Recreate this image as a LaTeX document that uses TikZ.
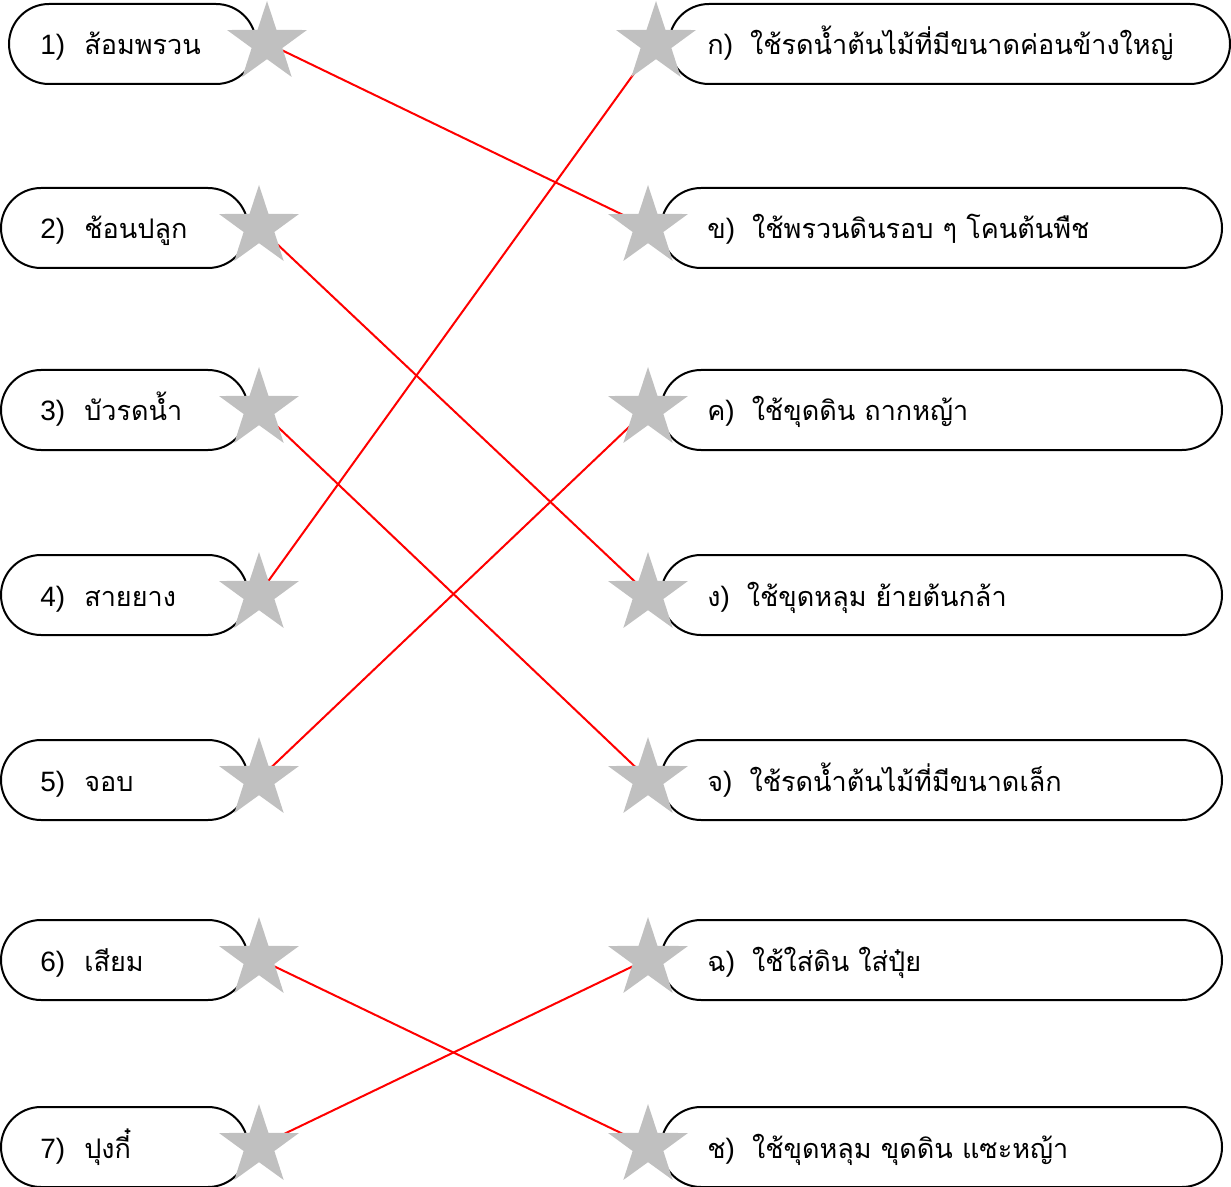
\documentclass[tikz,border=0pt]{standalone}
\usepackage{fontspec}
\setmainfont{Liberation Sans}
\newfontfamily\thaifont[Script=Thai,Scale=0.965]{Loma}
\usetikzlibrary{shapes.geometric,backgrounds}
\definecolor{stargray}{HTML}{C0C0C0}

\begin{document}
\begin{tikzpicture}[x=0.5pt,y=-0.5pt]
            \tikzstyle{box}=[draw=black,line width=1pt,rounded corners=20pt,minimum height=40pt,inner sep=0pt,anchor=west]
            \tikzstyle{lbox}=[box,minimum width=123.5pt]
            \tikzstyle{rbox}=[box,minimum width=280.5pt]
            \tikzstyle{itemtext}=[anchor=base west,inner sep=0pt,font=\fontsize{14}{16}\selectfont]
            \tikzstyle{starmark}=[star,star points=5,star point ratio=2.6,minimum size=42pt,inner sep=0pt,fill=stargray]
            \tikzstyle{match}=[red,line width=1pt]
            \useasboundingbox (0,0) rectangle (1231,1187);

                % left column
                \foreach \i/\x/\y/\t in {1/8/44/ส้อมพรวน, 2/0/228/ช้อนปลูก, 3/0/410/บัวรดน้ำ, 4/0/595/สายยาง, 5/0/780/จอบ, 6/0/960/เสียม, 7/0/1147/ปุงกี๋}{
                    \node[lbox] (L-\i) at (\x,\y){};
                    \node[itemtext] (LT-\i) at (40,\y+11){\i)\hspace{9.5pt}{\thaifont \t}};
                    \node[starmark] (LS-\i) at (\x+259,\y-1){};
                }

                % right column
                \foreach \i/\x/\y/\k/\t in {1/668/44/ก/ใช้รดน้ำต้นไม้ที่มีขนาดค่อนข้างใหญ่, 2/660/228/ข/ใช้พรวนดินรอบ ๆ โคนต้นพืช, 3/660/410/ค/ใช้ขุดดิน ถากหญ้า, 4/660/595/ง/ใช้ขุดหลุม ย้ายต้นกล้า, 5/660/780/จ/ใช้รดน้ำต้นไม้ที่มีขนาดเล็ก, 6/660/960/ฉ/ใช้ใส่ดิน ใส่ปุ๋ย, 7/660/1147/ช/ใช้ขุดหลุม ขุดดิน แซะหญ้า}{
                    \node[rbox] (R-\i) at (\x,\y){};
                    \node[itemtext] (RT-\i) at (707,\y+11){{\thaifont \k})\hspace{8.5pt}{\thaifont \t}};
                    \node[starmark] (RS-\i) at (\x-12,\y-1){};
                }

        \begin{scope}[on background layer]
                \foreach \from/\to in {1/2, 2/4, 3/5, 4/1, 5/3, 6/7, 7/6}
                    \draw[match] (LS-\from.center) -- (RS-\to.center);
        \end{scope}
        \end{tikzpicture}
\end{document}
